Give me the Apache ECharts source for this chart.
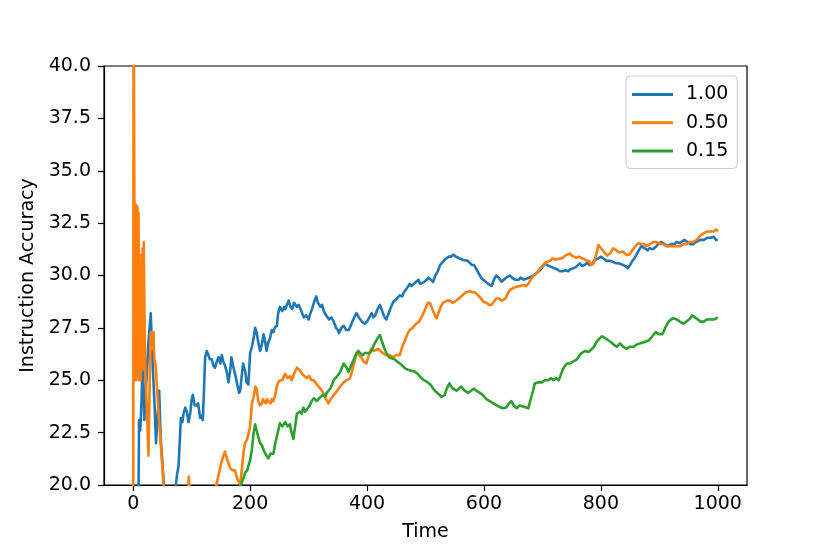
<!DOCTYPE html>
<html>
<head>
<meta charset="utf-8">
<script src="https://cdn.jsdelivr.net/npm/echarts@6/dist/echarts.min.js"></script>
<style>
html,body{margin:0;padding:0;background:#fff;}
#chart{width:830px;height:554px;}
</style>
</head>
<body>
<div id="chart"></div>
<script>
const seriesNames = ['1.00', '0.50', '0.15'];
const seriesColors = ['#1f77b4', '#ff7f0e', '#2ca02c'];
const xTicks = [0, 200, 400, 600, 800, 1000];

const blue = [[0,15],[5,17],[9,19.5],[10,23.1],[12,22.6],[14,23.8],[16.5,26.4],[18,24.5],[19,23.1],[21,24.2],[23,25.2],[26,26.8],[28,27.5],[30,28.2],[32,26.5],[34.7,24.9],[37,23.5],[39,22.0],[42,23.4],[44.4,24.5],[46,23.1],[47.6,22.0],[50,21.0],[55,19.0],[62,16],[68,18],[72,19.8],[75,20.5],[77.5,20.9],[80,22.3],[81.5,23.2],[84,23.0],[86,23.4],[89,23.7],[91.7,23.5],[94.6,23.0],[97.4,23.4],[100,24.1],[102,24.3],[105,23.8],[108.7,23.8],[111,23.9],[114.5,23.2],[117,23.3],[119,23.1],[121,24.5],[123,26.1],[126,26.4],[128.5,26.2],[131,26.0],[134.5,26.0],[137,25.7],[140,25.6],[143,25.9],[146,26.1],[149,25.8],[151.5,26.2],[154,25.9],[157,25.7],[160,25.4],[163,24.9],[166,25.5],[168,26.1],[171.5,25.6],[175,25.2],[178,24.8],[181,24.4],[183,24.5],[186,25.3],[188,25.8],[191.7,25.4],[194,24.9],[197,24.8],[200,26.3],[203,26.6],[206,27.0],[208.5,27.5],[211,27.3],[214,26.8],[217,26.4],[220,26.7],[223,27.2],[226,26.8],[228,26.4],[231,26.8],[234,27.0],[237,27.4],[240,27.3],[242,27.5],[245.6,27.6],[248,28.2],[251,28.5],[255,28.3],[258,28.5],[260,28.4],[263,28.6],[266,28.8],[269,28.5],[272,28.4],[275,28.7],[277,28.7],[280,28.5],[283,28.6],[286,28.4],[289,28.2],[292,28.0],[296,28.1],[300,27.9],[303,28.2],[306,28.4],[309,28.7],[313,29.0],[316,28.7],[320,28.5],[323,28.6],[326,28.3],[330,28.1],[335,27.9],[339,28.0],[343,27.8],[347,27.5],[350,27.4],[352,27.25],[356,27.5],[360,27.6],[364,27.4],[369,27.4],[372,27.6],[375,27.8],[378,28.0],[382,28.2],[386,28.0],[391,27.8],[396,27.7],[400,27.8],[404,28.0],[408,28.2],[411,28.0],[414,28.1],[418,28.4],[422,28.6],[426,28.3],[430,28.0],[433,27.9],[437,28.2],[441,28.5],[445,28.75],[448,28.7],[451,28.9],[456,29.05],[460,29.0],[463,29.2],[466,29.3],[469,29.3],[473,29.6],[476,29.5],[480,29.6],[484,29.7],[488,29.8],[491,29.6],[494,29.6],[498,29.7],[502,29.8],[505,29.9],[508,29.87],[513,29.7],[517,30.0],[521,30.2],[525,30.5],[530,30.66],[535,30.8],[540,30.9],[544,30.9],[547.5,31.0],[552,30.9],[556,30.85],[560,30.8],[564.6,30.74],[568,30.8],[572,30.7],[576,30.6],[579,30.5],[583,30.5],[587,30.3],[591,30.1],[595,29.9],[599,29.8],[603,29.7],[607,29.6],[610,29.6],[613,29.5],[617,29.8],[621,30.0],[625,29.9],[630,29.7],[634,29.8],[638,29.9],[644,30.0],[648,29.9],[653,29.8],[659,29.8],[663,29.9],[668,29.8],[673,29.85],[678,29.9],[684,30.0],[690,30.1],[696,30.26],[700,30.4],[704,30.58],[708,30.5],[712,30.45],[716,30.4],[720,30.35],[725,30.3],[730,30.2],[735,30.2],[740,30.25],[744,30.2],[748,30.3],[753,30.35],[757,30.4],[760,30.45],[764,30.58],[768,30.45],[772,30.5],[776,30.6],[782,30.5],[786,30.6],[790,30.75],[795,30.8],[800,30.9],[805,30.8],[810,30.7],[815,30.7],[820,30.66],[824,30.6],[827,30.65],[831,30.58],[834,30.58],[838,30.5],[842,30.45],[846,30.35],[850,30.5],[854,30.7],[857,30.8],[860,30.95],[863,31.1],[866,31.25],[869,31.4],[872,31.35],[875,31.3],[880,31.2],[883,31.3],[886,31.3],[889,31.25],[892,31.3],[895,31.4],[898,31.5],[903,31.6],[906,31.55],[909,31.5],[912,31.45],[915,31.4],[920,31.5],[923,31.45],[926,31.5],[929,31.6],[932,31.6],[935,31.55],[938,31.6],[943,31.7],[946,31.65],[948,31.6],[951,31.55],[953,31.5],[958,31.5],[963,31.6],[966,31.65],[970,31.7],[973,31.65],[976,31.7],[979,31.75],[982,31.8],[985,31.75],[988,31.8],[993,31.85],[997,31.7],[1000,31.7]];

const orange = [[0,12],[0.5,45],[2,33.4],[3,25.0],[4,33.4],[5.5,25.0],[7,33.3],[8,25.2],[9,33.0],[10.5,25.0],[12,29.8],[13,25.0],[14,31.0],[15,27.0],[16,31.3],[17,25.5],[18,31.6],[19.5,27.5],[21,25.0],[23,24.0],[26,21.4],[28,24.5],[30,27.3],[32,26.5],[34.7,27.3],[36,26.0],[38,25.8],[41,24.5],[44,23.2],[47,22.0],[50,20.8],[53,19.5],[60,17],[80,16],[92,18.5],[95,20.4],[97,19.5],[110,17],[130,18],[140,19.5],[143,20.1],[148.6,20.8],[152,21.2],[157,21.6],[161,21.2],[165.8,20.8],[170,20.7],[174,20.7],[178,20.3],[183,20.0],[186,20.8],[188.6,21.5],[191,22.0],[194.3,22.15],[197,22.4],[200,22.8],[203,23.9],[206,24.2],[209,24.7],[211,24.6],[214,24.0],[217,23.8],[220,23.9],[222,24.1],[224,24.0],[227,23.9],[229,24.1],[231,24.0],[235,23.9],[237,24.1],[239.5,24.0],[243,24.3],[245.6,24.7],[248,24.9],[251,25.0],[255,25.0],[258,25.2],[260,25.3],[264,25.1],[268,25.2],[271,25.0],[275,25.3],[280,25.6],[284,25.5],[287,25.4],[289,25.3],[293,25.2],[297,25.1],[301,25.2],[305,25.0],[309,25.0],[314,24.8],[317,24.7],[320,24.6],[325,24.4],[330,24.1],[334,23.9],[338,24.1],[343,24.3],[346,24.4],[349,24.5],[354,24.7],[357,24.8],[360,24.9],[365,25.0],[371,25.1],[376,25.6],[382,26.3],[386,26.2],[390,26.1],[394,25.9],[399,25.8],[403,26.2],[407,26.5],[412,26.4],[419,26.5],[423,26.4],[427,26.3],[432,26.2],[439,26.2],[445,26.1],[450,26.2],[456,26.2],[460,26.6],[465,26.9],[469,27.2],[473,27.4],[478,27.5],[484,27.7],[489,27.8],[493,28.0],[498,28.3],[504,28.7],[508,28.67],[513,28.3],[516,28.1],[519,27.96],[522,28.2],[526,28.5],[530,28.7],[533,28.75],[537,28.8],[542,28.8],[546,28.7],[550,28.75],[553,28.8],[557,28.9],[561,29.0],[565,29.1],[569,29.2],[572,29.15],[576,29.25],[580,29.2],[584,29.2],[588,29.1],[592,29.0],[595,28.9],[599,28.75],[604,28.7],[609,28.6],[613,28.6],[617,28.75],[621,28.9],[627,28.9],[630,28.8],[633,28.75],[637,28.9],[640,29.1],[644,29.3],[650,29.4],[656,29.47],[662,29.5],[667,29.55],[672,29.5],[676,29.6],[680,29.8],[684,29.95],[690,30.1],[696,30.34],[700,30.45],[704,30.58],[708,30.65],[713,30.7],[718,30.82],[722,30.75],[726,30.8],[730,30.8],[735,30.85],[739,30.95],[743,31.0],[747,31.06],[750,30.95],[753,30.9],[758,30.85],[762,30.9],[765,30.9],[770,30.8],[773,30.75],[776,30.7],[780,30.7],[784,30.5],[788,30.6],[792,31.0],[796,31.46],[799,31.35],[801,31.3],[806,31.1],[811,30.95],[816,31.06],[821,31.3],[824,31.25],[827,31.2],[830,31.1],[833,31.1],[838,31.14],[841,31.05],[844,30.98],[849,31.0],[854,31.2],[859,31.4],[864,31.54],[869,31.5],[874,31.5],[878,31.4],[881,31.45],[884,31.5],[887,31.55],[890,31.6],[895,31.6],[898,31.55],[901,31.5],[904,31.55],[907,31.5],[912,31.4],[915,31.45],[918,31.4],[921,31.35],[924,31.4],[927,31.45],[930,31.4],[933,31.35],[936,31.4],[941,31.5],[944,31.45],[947,31.5],[950,31.55],[953,31.6],[958,31.6],[961,31.65],[964,31.7],[967,31.8],[970,31.9],[975,32.0],[978,31.95],[981,32.1],[984,32.05],[987,32.1],[990,32.05],[993,32.1],[997,32.2],[1000,32.1]];

const green = [[0,10],[60,13],[120,16],[170,19],[183,19.9],[188,20.3],[191.7,20.6],[195,20.7],[200,21.2],[203,21.7],[206,22.5],[208.5,22.9],[212,22.5],[217,22.0],[220,21.9],[224,21.6],[228,21.4],[231,21.27],[235,21.5],[240,21.5],[243,22.0],[245.6,22.3],[248,22.6],[251,22.95],[255,22.8],[260,23.0],[264,22.8],[268,22.9],[271,22.5],[274,22.2],[277,22.8],[280,23.4],[285,23.5],[288,23.4],[291,23.7],[294,23.5],[297,23.5],[302,23.8],[305,24.0],[309,24.14],[314,24.0],[317,24.1],[320,24.2],[325,24.3],[328,24.2],[331,24.4],[334,24.5],[337,24.6],[340,24.8],[343,25.0],[349,25.2],[354,25.4],[357,25.6],[360,25.8],[365,25.6],[368,25.4],[371,25.33],[376,25.9],[382,26.3],[385,26.4],[388,26.3],[393,26.2],[396,26.3],[400,26.3],[405,26.3],[409,26.5],[413,26.76],[418,27.0],[422,27.16],[426,26.8],[430,26.5],[433,26.3],[438,26.1],[442,26.05],[447,26.0],[451,25.9],[456,25.8],[460,25.7],[465,25.57],[470,25.5],[473,25.5],[476,25.45],[479,25.5],[482,25.4],[487,25.3],[490,25.2],[493,25.1],[498,25.0],[501,24.95],[504,24.9],[508,24.8],[511,24.7],[513,24.6],[516,24.5],[519,24.45],[524,24.3],[527,24.2],[530,24.14],[533,24.3],[535,24.5],[538,24.7],[541,24.85],[544,24.7],[547,24.6],[550,24.55],[553,24.5],[557,24.6],[561,24.7],[564,24.6],[567,24.5],[570,24.45],[573,24.4],[578,24.5],[583,24.6],[587,24.5],[590,24.45],[593,24.4],[596,24.35],[598,24.3],[601,24.2],[604,24.1],[607,24.05],[610,24.0],[613,23.95],[616,23.9],[619,23.85],[622,23.8],[625,23.75],[628,23.7],[633,23.66],[638,23.7],[643,23.9],[647,24.0],[651,23.8],[656,23.66],[661,23.8],[664,23.75],[667,23.75],[672,23.7],[676,23.66],[678,23.9],[681,24.2],[684,24.5],[687,24.85],[690,24.85],[693,24.9],[696,24.85],[699,24.9],[702,24.95],[704,25.0],[707,24.95],[710,25.0],[712,25.05],[715,25.1],[719,25.0],[722,25.05],[724,25.1],[726,25.05],[728,25.0],[732,25.3],[736,25.57],[739,25.7],[742,25.8],[745,25.75],[747,25.8],[750,25.85],[753,25.9],[756,25.95],[759,26.0],[764,26.2],[767,26.3],[770,26.36],[773,26.4],[776,26.4],[779,26.35],[782,26.4],[785,26.5],[788,26.6],[793,26.84],[798,27.0],[802,27.1],[805,27.05],[808,27.0],[813,26.9],[818,26.8],[822,26.7],[825,26.65],[827,26.6],[830,26.6],[833,26.76],[836,26.7],[838,26.6],[841,26.55],[844,26.5],[847,26.55],[850,26.6],[853,26.65],[856,26.6],[858,26.65],[861,26.7],[864,26.7],[867,26.76],[870,26.75],[872,26.8],[875,26.85],[877,26.85],[880,26.9],[882,26.9],[885,27.0],[888,27.1],[891,27.2],[894,27.3],[897,27.25],[899,27.2],[902,27.25],[905,27.2],[908,27.35],[910,27.5],[913,27.65],[916,27.8],[918,27.85],[920,27.9],[924,27.96],[927,27.9],[930,27.9],[933,27.85],[935,27.8],[938,27.75],[941,27.7],[944,27.75],[946,27.8],[949,27.85],[951,27.9],[954,28.0],[956,28.1],[958,28.05],[961,28.0],[964,27.95],[966,27.9],[968,27.85],[970,27.8],[973,27.85],[976,27.8],[979,27.85],[981,27.9],[984,27.95],[987,27.9],[990,27.85],[993,27.9],[997,27.95],[1000,28.0]];

const seriesData = [blue, orange, green];
const FONT = 'DejaVu Sans';

const chart = echarts.init(document.getElementById('chart'), null, {renderer: 'canvas'});
chart.setOption({
  animation: false,
  backgroundColor: '#ffffff',
  grid: {left: 104, right: 83, top: 66, bottom: 69, show: true, borderColor: '#000', borderWidth: 1.2, backgroundColor: 'transparent'},
  legend: {
    data: seriesNames,
    orient: 'vertical',
    left: 626, top: 76,
    padding: [9, 9, 8, 6],
    itemGap: 9.3,
    itemWidth: 41, itemHeight: 3,
    icon: 'rect',
    backgroundColor: 'rgba(255,255,255,0.8)',
    borderColor: '#cccccc', borderWidth: 1, borderRadius: 4,
    textStyle: {fontFamily: FONT, fontSize: 19, color: '#000', lineHeight: 19, padding: [0, 0, 0, 8]}
  },
  xAxis: {
    type: 'value', min: -50, max: 1050,
    name: 'Time', nameLocation: 'middle', nameGap: 38,
    nameTextStyle: {fontFamily: FONT, fontSize: 19, color: '#000'},
    axisLine: {show: true, onZero: false, lineStyle: {color: '#000', width: 1.2}},
    axisTick: {show: true, inside: false, length: 6, customValues: xTicks, lineStyle: {color: '#000', width: 1.2}},
    axisLabel: {customValues: xTicks, margin: 10, fontFamily: FONT, fontSize: 19, color: '#000', formatter: v => String(v)},
    splitLine: {show: false}
  },
  yAxis: {
    type: 'value', min: 20, max: 40, interval: 2.5,
    name: 'Instruction Accuracy', nameLocation: 'middle', nameGap: 66,
    nameTextStyle: {fontFamily: FONT, fontSize: 19, color: '#000'},
    axisLine: {show: true, onZero: false, lineStyle: {color: '#000', width: 1.2}},
    axisTick: {show: true, inside: false, length: 6, lineStyle: {color: '#000', width: 1.2}},
    axisLabel: {margin: 13, fontFamily: FONT, fontSize: 19, color: '#000', formatter: v => v.toFixed(1)},
    splitLine: {show: false}
  },
  series: seriesNames.map((n, i) => ({
    name: n, type: 'line', data: seriesData[i], symbol: 'none', clip: true,
    lineStyle: {color: seriesColors[i], width: 2.6, join: 'round'},
    itemStyle: {color: seriesColors[i]},
    z: 2 + i
  }))
});
</script>
</body>
</html>
